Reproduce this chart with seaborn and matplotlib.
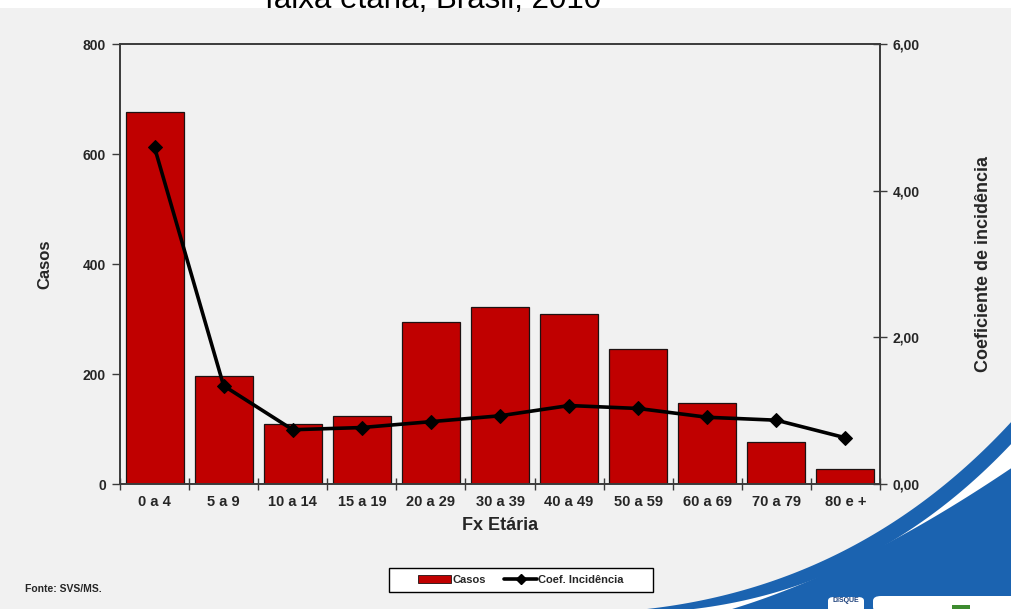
import numpy as np
import matplotlib
matplotlib.use("Agg")
import matplotlib.pyplot as plt
from matplotlib.patches import Patch, Polygon, FancyBboxPatch, Rectangle
from matplotlib.lines import Line2D
import seaborn as sns

# Casos e coeficiente de incidência por faixa etária
faixas = ["0 a 4", "5 a 9", "10 a 14", "15 a 19", "20 a 29", "30 a 39",
          "40 a 49", "50 a 59", "60 a 69", "70 a 79", "80 e +"]
casos = [677, 197, 110, 124, 295, 322, 310, 245, 148, 77, 27]
coef = [4.59, 1.34, 0.74, 0.77, 0.85, 0.93, 1.07, 1.03, 0.91, 0.87, 0.63]

casos_ticks = [0, 200, 400, 600, 800]
coef_ticks = [0, 2, 4, 6]
coef_tick_labels = ["0,00", "2,00", "4,00", "6,00"]

BG = "#f1f1f1"
RED = "#c00000"
BLUE = "#1b63b0"
SPINE = "#3a3a3a"

sns.set_style("ticks")
plt.rcParams["font.family"] = ["Liberation Sans", "DejaVu Sans"]
plt.rcParams["font.weight"] = "bold"

W, H = 1011, 609
fig = plt.figure(figsize=(W / 100, H / 100), dpi=100, facecolor=BG)


def fx(px):
    return px / W


def fy(py):
    return 1 - py / H


# white header strip with the (partly hidden) title line
fig.patches.append(Rectangle((0, fy(7.5)), 1, 1 - fy(7.5), transform=fig.transFigure,
                             facecolor="white", edgecolor="none", zorder=0))
fig.text(fx(265), fy(8), "faixa etária, Brasil, 2010", fontsize=22.5,
         fontweight="normal", ha="left", va="baseline", color="black")


# decorative blue swoosh in the lower right corner
def bezier(p0, p1, p2, n=80):
    t = np.linspace(0, 1, n)[:, None]
    p0, p1, p2 = map(np.asarray, (p0, p1, p2))
    return (1 - t) ** 2 * p0 + 2 * (1 - t) * t * p1 + t ** 2 * p2


def to_fig(pts):
    return np.column_stack([pts[:, 0] / W, 1 - pts[:, 1] / H])


curve_a = bezier((612, 612), (850, 598), (1013, 420))
curve_b = bezier((660, 612), (865, 600), (1013, 442))
curve_c = bezier((722, 612), (855, 574), (1013, 467))

stripe = np.vstack([curve_a, curve_b[::-1]])
gap = np.vstack([curve_b, curve_c[::-1]])
fill = np.vstack([curve_c, [[1013, 612]]])
for pts, col in ((gap, "white"), (stripe, BLUE), (fill, BLUE)):
    fig.patches.append(Polygon(to_fig(pts), closed=True, transform=fig.transFigure,
                               facecolor=col, edgecolor="none", zorder=0))

fig.patches.append(FancyBboxPatch((fx(873), fy(612)), fx(150), fy(596) - fy(612),
                                  boxstyle="round,pad=0,rounding_size=0.008",
                                  transform=fig.transFigure, facecolor="white",
                                  edgecolor="none", zorder=1))
fig.patches.append(FancyBboxPatch((fx(828), fy(612)), fx(36), fy(597) - fy(612),
                                  boxstyle="round,pad=0,rounding_size=0.006",
                                  transform=fig.transFigure, facecolor="white",
                                  edgecolor="none", zorder=1))
fig.text(fx(846), fy(601), "DISQUE", fontsize=5, color="#1b3f7a", ha="center",
         va="center", fontweight="bold")
fig.patches.append(Rectangle((fx(952), fy(610)), fx(18), fy(605) - fy(610),
                             transform=fig.transFigure, facecolor="#3d8b2f",
                             edgecolor="none", zorder=2))

# main axes
ax = fig.add_axes([fx(120), fy(484), fx(760), fy(44) - fy(484)])
ax.set_facecolor(BG)

sns.barplot(x=faixas, y=casos, color=RED, saturation=1, width=0.84,
            edgecolor="#1e1212", linewidth=0.9, ax=ax, zorder=2)
ax.set_ylim(0, 800)
ax.set_xlim(-0.5, len(faixas) - 0.5)
ax.set_yticks(casos_ticks)
ax.set_yticklabels([str(v) for v in casos_ticks])

ax2 = ax.twinx()
sns.lineplot(x=faixas, y=coef, ax=ax2, color="black", linewidth=2.6, sort=False,
             marker="D", markersize=7, markeredgecolor="black", zorder=3)
ax2.set_ylim(0, 6)
ax2.set_yticks(coef_ticks)
ax2.set_yticklabels(coef_tick_labels)
ax.set_xlim(-0.5, len(faixas) - 0.5)

# tick styling
ax.set_xticks(np.arange(len(faixas)))
ax.set_xticklabels(faixas)
ax.set_xticks(np.arange(-0.5, len(faixas)), minor=True)
ax.tick_params(axis="x", which="major", length=0, pad=8, labelsize=10.5)
ax.tick_params(axis="x", which="minor", direction="inout", length=8, width=1,
               color=SPINE)
ax.tick_params(axis="y", direction="out", length=6, width=1, color=SPINE,
               labelsize=10, pad=4)
ax2.tick_params(axis="y", direction="inout", length=10, width=1, color=SPINE,
                labelsize=10, pad=4)
for a in (ax, ax2):
    for lab in a.get_xticklabels() + a.get_yticklabels():
        lab.set_fontweight("bold")
    for sp in a.spines.values():
        sp.set_visible(True)
        sp.set_color(SPINE)
        sp.set_linewidth(1.2)

ax.set_xlabel("Fx Etária", fontsize=13, fontweight="bold", labelpad=6)
ax.set_ylabel("Casos", fontsize=12, fontweight="bold", labelpad=22)
ax2.set_ylabel("Coeficiente de incidência", fontsize=13, fontweight="bold",
               labelpad=40, rotation=90)
ax.set_zorder(ax2.get_zorder() - 1)
ax2.patch.set_visible(False)

# legend below the chart
handles = [Patch(facecolor=RED, edgecolor="#1e1212", linewidth=0.6),
           Line2D([], [], color="black", linewidth=2.6, marker="D", markersize=5)]
leg = fig.legend(handles, ["Casos", "Coef. Incidência"], loc="center",
                 bbox_to_anchor=(fx(521), fy(580)), ncol=2, frameon=True,
                 fancybox=False, edgecolor="black", facecolor="white",
                 framealpha=1, prop={"weight": "bold", "size": 8},
                 handlelength=3, handleheight=0.8, columnspacing=1.6,
                 borderpad=0.6, handletextpad=0.1)
leg.get_frame().set_linewidth(1)
leg.get_frame().set_boxstyle("square", pad=0)
leg._legend_box.set_width(250)

fig.text(fx(25), fy(589), "Fonte: SVS/MS.", fontsize=7.5,
         family=["Liberation Sans Narrow", "Liberation Sans"], fontweight="bold",
         ha="left", va="center")

fig.savefig("out.png", dpi=100, facecolor=BG)
